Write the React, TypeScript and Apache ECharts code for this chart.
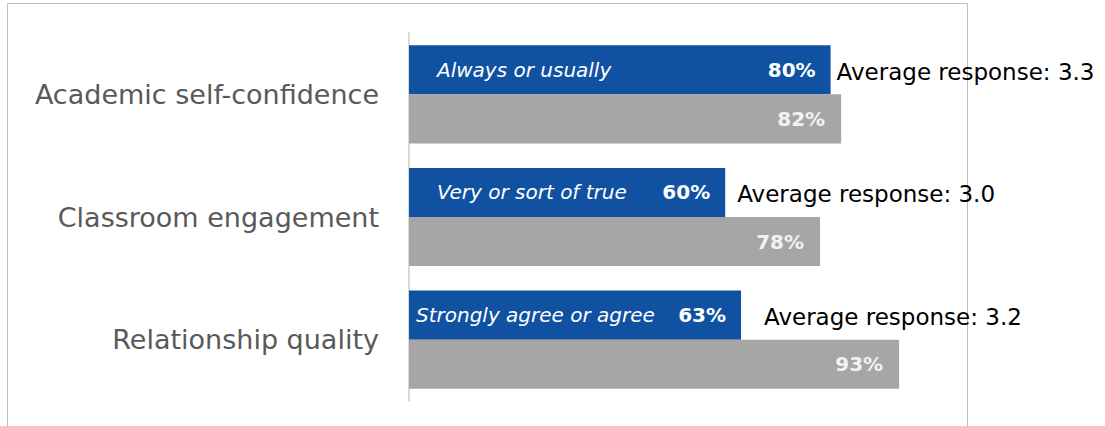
import React, { useEffect, useRef } from "react";
import * as echarts from "echarts";

const categories = ["Academic self-confidence", "Classroom engagement", "Relationship quality"];
const positiveShare = [80, 60, 63];
const comparisonShare = [82, 78, 93];
const responseLabels = ["Always or usually", "Very or sort of true", "Strongly agree or agree"];
const averageResponse = [3.3, 3.0, 3.2];

// style-only tweaks per row (label spacing)
const italicInset = [28, 28, 7];
const avgGap = [6, 12, 23];

const BLUE = "#1151A1";
const GRAY = "#A6A6A6";
const FONT = "'DejaVu Sans', 'Open Sans', sans-serif";

export default function App() {
  const ref = useRef<HTMLDivElement>(null);

  useEffect(() => {
    if (!ref.current) return;
    const chart = echarts.init(ref.current, undefined, { renderer: "svg" });

    const hiddenY = () => ({
      type: "category",
      gridIndex: 0,
      data: categories,
      inverse: true,
      show: false,
    });

    const common = {
      type: "bar",
      barGap: "0%",
      barCategoryGap: "20%",
    };

    const option: any = {
      animation: false,
      backgroundColor: "#FFFFFF",
      grid: { left: 409, right: 169, top: 33, bottom: 25, containLabel: false },
      xAxis: { type: "value", min: 0, max: 100, show: false },
      yAxis: [
        {
          type: "category",
          data: categories,
          inverse: true,
          axisLine: { show: true, lineStyle: { color: "#D9D9D9", width: 2 } },
          axisTick: { show: false },
          axisLabel: { margin: 30, color: "#595959", fontSize: 27, fontFamily: FONT },
          splitLine: { show: false },
        },
        hiddenY(),
        hiddenY(),
      ],
      graphic: [
        {
          type: "rect",
          shape: { x: 7.5, y: 3.5, width: 960, height: 440 },
          style: { fill: "none", stroke: "#BFBFBF", lineWidth: 1 },
          silent: true,
          z: -10,
        },
      ],
      series: [
        {
          ...common,
          name: "positive",
          yAxisIndex: 0,
          data: positiveShare,
          itemStyle: { color: BLUE },
          label: {
            show: true,
            position: "insideRight",
            distance: 15,
            formatter: (p: any) => `${p.value}%`,
            color: "#FFFFFF",
            fontWeight: "bold",
            fontSize: 20,
            fontFamily: FONT,
          },
        },
        {
          ...common,
          name: "comparison",
          yAxisIndex: 0,
          data: comparisonShare,
          itemStyle: { color: GRAY },
          label: {
            show: true,
            position: "insideRight",
            distance: 16,
            formatter: (p: any) => `${p.value}%`,
            color: "#F2F2F2",
            fontWeight: "bold",
            fontSize: 20,
            fontFamily: FONT,
          },
        },
        {
          ...common,
          name: "phrase",
          yAxisIndex: 1,
          silent: true,
          data: positiveShare.map((v, i) => ({ value: v, label: { distance: italicInset[i] } })),
          itemStyle: { color: "transparent" },
          label: {
            show: true,
            position: "insideLeft",
            formatter: (p: any) => responseLabels[p.dataIndex],
            color: "#FFFFFF",
            fontStyle: "italic",
            fontSize: 20,
            fontFamily: FONT,
          },
        },
        {
          ...common,
          name: "phrase-pad",
          yAxisIndex: 1,
          silent: true,
          data: comparisonShare,
          itemStyle: { color: "transparent" },
          label: { show: false },
        },
        {
          ...common,
          name: "avg",
          yAxisIndex: 2,
          silent: true,
          data: positiveShare.map((v, i) => ({ value: v, label: { distance: avgGap[i] } })),
          itemStyle: { color: "transparent" },
          label: {
            show: true,
            position: "right",
            formatter: (p: any) => `Average response: ${averageResponse[p.dataIndex].toFixed(1)}`,
            color: "#000000",
            fontSize: 23,
            fontFamily: FONT,
            offset: [0, 2],
          },
        },
        {
          ...common,
          name: "avg-pad",
          yAxisIndex: 2,
          silent: true,
          data: comparisonShare,
          itemStyle: { color: "transparent" },
          label: { show: false },
        },
      ],
    };

    chart.setOption(option);
    return () => chart.dispose();
  }, []);

  return (
    <div
      ref={ref}
      style={{ position: "absolute", left: 0, top: 0, width: 1105, height: 426 }}
    />
  );
}
